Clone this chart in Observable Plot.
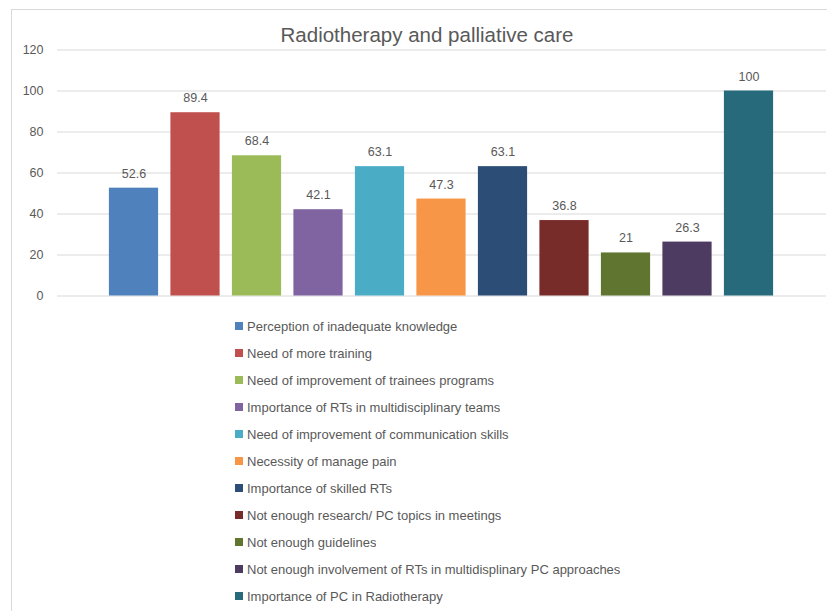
<!DOCTYPE html>
<html>
<head>
<meta charset="utf-8">
<script src="https://cdn.jsdelivr.net/npm/d3@7"></script>
<script src="https://cdn.jsdelivr.net/npm/@observablehq/plot@0.6"></script>
<style>
  html, body { margin: 0; padding: 0; background: #fff; }
  body { width: 828px; height: 611px; position: relative; overflow: hidden; font-family: "Liberation Sans", Arial, sans-serif; }
  #frame { position: absolute; left: 11px; top: 9px; width: 816px; height: 602px; border-top: 1px solid #d9d9d9; border-left: 1px solid #d9d9d9; box-sizing: border-box; }
  #title { position: absolute; left: 0; width: 828px; top: 23px; text-align: center; font-size: 20.5px; color: #595959; padding-left: 26px; box-sizing: border-box; }
  #chart { position: absolute; left: 0; top: 0; }
  #legend { position: absolute; left: 235px; top: 312.5px; }
  #legend .lg-swatch { height: 27px; display: flex; align-items: center; margin: 0 !important; padding: 0 !important; font-size: 13px; color: #595959; font-family: "Liberation Sans", Arial, sans-serif; }
  #legend .lg-swatch svg { margin-right: 4px !important; }
</style>
</head>
<body>
<div id="frame"></div>
<div id="chart"></div>
<div id="title">Radiotherapy and palliative care</div>
<div id="legend"></div>
<script>
const categories = [
  "Perception of inadequate knowledge",
  "Need of more training",
  "Need of improvement of trainees programs",
  "Importance of RTs in multidisciplinary teams",
  "Need of improvement of communication skills",
  "Necessity of manage pain",
  "Importance of skilled RTs",
  "Not enough research/ PC topics in meetings",
  "Not enough guidelines",
  "Not enough involvement of RTs in multidisplinary PC approaches",
  "Importance of PC in Radiotherapy"
];
const values = [52.6, 89.4, 68.4, 42.1, 63.1, 47.3, 63.1, 36.8, 21, 26.3, 100];
const labels = ["52.6", "89.4", "68.4", "42.1", "63.1", "47.3", "63.1", "36.8", "21", "26.3", "100"];
const colors = ["#4F81BD", "#C0504D", "#9BBB59", "#8064A2", "#4BACC6", "#F79646", "#2C4D75", "#772C2A", "#5F7530", "#4D3B62", "#276A7C"];
const yTicks = [0, 20, 40, 60, 80, 100, 120];

const data = categories.map((c, i) => ({cat: c, value: values[i], label: labels[i]}));

const plot = Plot.plot({
  width: 828,
  height: 310,
  marginLeft: 57,
  marginRight: 2,
  marginTop: 49.5,
  marginBottom: 14.5,
  style: { fontFamily: "Liberation Sans, Arial, sans-serif", fontSize: "12px", color: "#595959", background: "transparent" },
  x: { domain: categories, range: [102.75, 779.25], paddingInner: 0.2, paddingOuter: 0.1, round: false, axis: null },
  y: { domain: [0, 120], ticks: yTicks, label: null },
  color: { domain: categories, range: colors },
  marks: [
    Plot.gridY(yTicks, { stroke: "#d9d9d9", strokeOpacity: 1, strokeWidth: 1 }),
    Plot.axisY(yTicks, { tickSize: 0, tickPadding: 14, fill: "#595959", fontSize: 12.5, label: null }),
    Plot.barY(data, { x: "cat", y: "value", fill: "cat" }),
    Plot.text(data, { x: "cat", y: "value", text: "label", dy: -14.5, fill: "#595959", fontSize: 12.5 })
  ]
});
document.getElementById("chart").appendChild(plot);

const leg = plot.legend("color", { columns: 1, swatchSize: 8, className: "lg" });
document.getElementById("legend").appendChild(leg);
</script>
</body>
</html>
